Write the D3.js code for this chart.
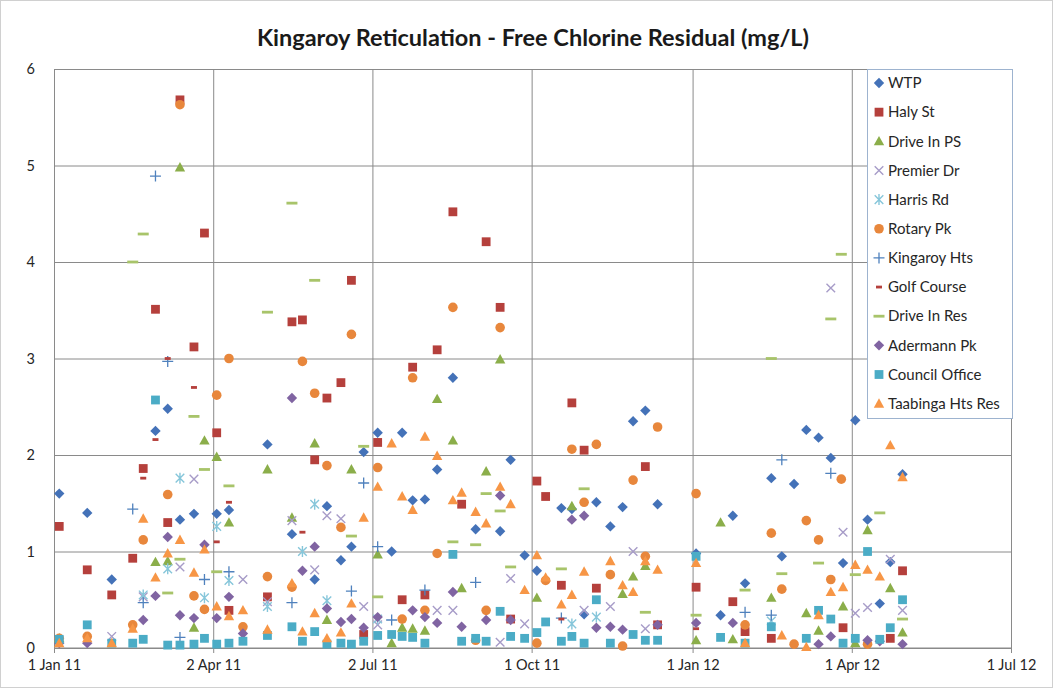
<!DOCTYPE html>
<html>
<head>
<meta charset="utf-8">
<title>Kingaroy Reticulation</title>
<script src="https://cdn.jsdelivr.net/npm/d3@7/dist/d3.min.js"></script>
<style>
  body { margin: 0; background: #fff; }
  svg { display: block; font-family: Lato, "Open Sans", sans-serif; }
</style>
</head>
<body>
<svg id="chart" width="1053" height="688"></svg>
<script>
// sample day = days after 1 Jan 2011, value = free chlorine mg/L
const wtp = [[3,1.60],[19,1.40],[33,0.71],[58,2.25],[65,2.48],[72,1.33],[80,1.39],[93,1.39],[100,1.43],
  [122,2.11],[136,1.18],[149,0.71],[156,1.47],[164,0.91],[170,1.05],[177,2.03],[185,2.23],[193,1.00],
  [199,2.23],[205,1.53],[212,1.54],[219,1.85],[228,2.80],[241,1.23],[255,1.21],[261,1.95],[269,0.96],
  [276,0.80],[290,1.45],[296,1.44],[303,0.35],[310,1.51],[318,1.26],[325,1.46],[331,2.35],[338,2.46],
  [345,1.49],[367,0.98],[381,0.34],[388,1.37],[395,0.67],[410,1.76],[416,0.95],[423,1.70],[430,2.26],
  [437,2.18],[444,1.97],[451,0.88],[458,2.36],[465,1.33],[472,0.46],[478,0.89],[485,1.80]];
const halySt = [[3,1.26],[19,0.81],[33,0.55],[45,0.93],[51,1.86],[58,3.51],[65,1.30],[72,5.68],[80,3.12],
  [86,4.30],[93,2.23],[100,0.39],[122,0.53],[136,3.38],[142,3.40],[149,1.95],[156,2.59],[164,2.75],
  [170,3.81],[177,0.14],[185,2.13],[199,0.50],[205,2.91],[212,0.55],[219,3.09],[228,4.52],[233,1.49],
  [247,4.21],[255,3.53],[261,0.30],[276,1.73],[281,1.57],[290,0.65],[296,2.54],[303,2.05],[310,0.62],
  [338,1.88],[345,0.24],[367,0.63],[388,0.48],[395,0.17],[410,0.10],[451,0.21],[478,0.10],[485,0.80]];
const driveInPS = [[3,0.10],[58,0.89],[65,0.90],[72,4.98],[80,0.21],[86,2.15],[93,1.98],[100,1.30],
  [122,1.85],[136,1.35],[149,2.12],[156,0.29],[170,1.85],[185,0.97],[193,0.05],[199,0.21],[205,0.20],
  [212,0.18],[219,2.58],[228,2.15],[233,0.62],[247,1.83],[255,2.99],[276,0.52],[296,1.47],[325,0.56],
  [331,0.74],[338,0.85],[367,0.08],[381,1.30],[388,0.09],[410,0.52],[430,0.36],[437,0.18],[451,0.43],
  [458,0.05],[465,1.22],[478,0.62],[485,0.16]];
const premierDr = [[33,0.12],[51,0.53],[72,0.84],[80,1.75],[108,0.71],[122,0.48],[136,1.32],[149,0.81],
  [156,1.37],[164,1.34],[177,0.43],[185,0.24],[219,0.39],[228,0.39],[255,0.06],[261,0.72],[269,0.25],
  [303,0.39],[318,0.43],[331,1.00],[338,0.20],[444,3.73],[451,1.20],[458,0.36],[465,0.42],[478,0.92],
  [485,0.39]];
const harrisRd = [[51,0.55],[65,0.82],[72,1.76],[86,0.52],[93,1.26],[100,0.70],[122,0.43],[142,1.00],
  [149,1.49],[156,0.49],[185,0.30],[296,0.25],[310,0.32],[410,0.28]];
const rotaryPk = [[3,0.10],[19,0.12],[45,0.24],[51,1.12],[65,1.59],[72,5.63],[80,0.54],[86,0.40],[93,2.62],
  [100,3.00],[108,0.22],[122,0.74],[136,0.63],[142,2.97],[149,2.64],[156,1.89],[164,1.25],[170,3.25],
  [185,1.87],[199,0.30],[205,2.80],[212,0.39],[219,0.98],[228,3.53],[241,0.08],[247,0.39],[255,3.32],
  [276,0.05],[281,0.70],[296,2.06],[303,1.51],[310,2.11],[318,0.76],[325,0.02],[331,1.74],[338,0.95],
  [345,2.29],[367,1.60],[395,0.24],[410,1.19],[416,0.61],[423,0.04],[430,1.32],[437,1.12],[444,0.71],
  [450,1.75],[465,0.04]];
const kingaroyHts = [[45,1.44],[51,0.47],[58,4.89],[65,2.97],[72,0.11],[86,0.71],[100,0.79],[136,0.47],
  [170,0.59],[177,1.71],[185,1.05],[193,0.29],[212,0.60],[241,0.68],[290,0.31],[395,0.37],[410,0.34],
  [416,1.95],[444,1.81]];
const golfCourse = [[51,1.76],[58,2.16],[65,3.00],[80,2.70],[93,1.10],[100,1.51],[142,1.20],[290,0.30],
  [367,0.20]];
const driveInRes = [[45,4.00],[51,4.29],[65,0.57],[72,0.92],[80,2.40],[86,1.85],[93,0.79],[100,1.68],
  [122,3.48],[136,4.61],[149,3.81],[170,1.16],[177,2.09],[185,0.53],[228,1.10],[241,1.07],[247,1.60],
  [255,1.42],[261,0.84],[290,0.82],[303,1.65],[338,0.37],[367,0.34],[395,0.60],[410,3.00],[416,0.77],
  [437,0.88],[444,3.41],[450,4.08],[458,0.76],[472,1.40],[485,0.30]];
const adermannPk = [[3,0.05],[19,0.05],[51,0.29],[58,0.54],[65,1.15],[72,0.34],[80,0.31],[86,1.07],
  [93,0.31],[100,0.53],[108,0.15],[136,2.59],[142,0.80],[149,1.05],[156,0.41],[164,0.27],[170,0.30],
  [177,0.21],[185,0.32],[205,0.39],[212,0.32],[219,0.26],[228,0.58],[233,0.22],[247,0.29],[255,1.58],
  [261,0.29],[296,1.33],[303,1.37],[310,0.21],[318,0.22],[325,0.19],[345,0.24],[367,0.26],[388,0.26],
  [437,0.04],[444,0.12],[465,0.08],[472,0.07],[485,0.04]];
const councilOffice = [[3,0.09],[19,0.24],[33,0.05],[45,0.05],[51,0.09],[58,2.57],[65,0.03],[72,0.03],
  [80,0.04],[86,0.10],[93,0.04],[100,0.05],[108,0.07],[122,0.13],[136,0.22],[142,0.07],[149,0.17],
  [156,0.04],[164,0.05],[170,0.04],[177,0.07],[185,0.13],[193,0.14],[199,0.12],[205,0.11],[212,0.05],
  [228,0.97],[233,0.07],[241,0.10],[247,0.07],[255,0.38],[261,0.12],[269,0.10],[276,0.16],[281,0.27],
  [290,0.07],[296,0.12],[303,0.05],[310,0.50],[318,0.05],[331,0.14],[338,0.08],[345,0.08],[367,0.95],
  [381,0.11],[395,0.05],[410,0.22],[430,0.10],[437,0.39],[444,0.30],[451,0.05],[458,0.10],[465,1.00],
  [472,0.09],[478,0.21],[485,0.50]];
const taabingaHtsRes = [[3,0.05],[19,0.10],[33,0.05],[45,0.20],[51,1.34],[58,0.73],[65,0.98],[72,1.12],
  [80,0.78],[86,1.02],[93,0.43],[100,0.33],[108,0.39],[122,0.19],[136,0.67],[142,0.17],[149,0.36],
  [156,0.10],[164,0.16],[170,0.46],[177,1.35],[185,1.67],[193,2.12],[199,1.57],[205,1.43],[212,2.19],
  [219,1.99],[228,1.53],[233,1.61],[241,1.41],[247,1.29],[255,1.67],[261,1.49],[269,0.60],[276,0.96],
  [281,0.73],[290,0.45],[296,0.55],[303,0.79],[318,0.90],[325,0.65],[331,0.58],[338,0.90],[345,0.81],
  [367,0.88],[395,0.05],[416,0.13],[430,0.01],[437,0.34],[444,0.58],[451,0.63],[458,0.86],[465,0.81],
  [472,0.74],[478,2.10],[485,1.77]];

const seriesNames = ['WTP', 'Haly St', 'Drive In PS', 'Premier Dr', 'Harris Rd', 'Rotary Pk',
  'Kingaroy Hts', 'Golf Course', 'Drive In Res', 'Adermann Pk', 'Council Office', 'Taabinga Hts Res'];
const seriesData = [wtp, halySt, driveInPS, premierDr, harrisRd, rotaryPk,
  kingaroyHts, golfCourse, driveInRes, adermannPk, councilOffice, taabingaHtsRes];

const tickDays = [0, 91, 182, 273, 365, 456, 547];
const tickLabels = ['1 Jan 11', '2 Apr 11', '2 Jul 11', '1 Oct 11', '1 Jan 12', '1 Apr 12', '1 Jul 12'];
const yTicks = [0, 1, 2, 3, 4, 5, 6];

// marker styles per series
const markers = [
  { shape: 'diamond', color: '#4472B8' },
  { shape: 'square', color: '#B5403C' },
  { shape: 'triangle', color: '#8BAE4A' },
  { shape: 'x', color: '#A79CC8' },
  { shape: 'asterisk', color: '#86C6DA' },
  { shape: 'circle', color: '#E8873C' },
  { shape: 'plus', color: '#4F81BD' },
  { shape: 'shortdash', color: '#B5403C' },
  { shape: 'longdash', color: '#A8C46A' },
  { shape: 'diamond', color: '#8064A2' },
  { shape: 'square', color: '#4BACC6' },
  { shape: 'triangle', color: '#F79646' }
];

const svg = d3.select('#chart');
const width = +svg.attr('width');
const height = +svg.attr('height');
const margin = { top: 69, right: 42, bottom: 40, left: 54 };
const innerWidth = width - margin.left - margin.right;
const innerHeight = height - margin.top - margin.bottom;

const day0 = new Date(2011, 0, 1);
const toDate = d => new Date(2011, 0, 1 + d);

const xScale = d3.scaleTime()
  .domain([day0, toDate(547)])
  .range([0, innerWidth]);
const yScale = d3.scaleLinear()
  .domain([0, 6])
  .range([innerHeight, 0]);

// chart border
svg.append('rect')
  .attr('x', 0.5).attr('y', 0.5)
  .attr('width', width - 1).attr('height', height - 1)
  .attr('fill', '#fff').attr('stroke', '#d0d0d0');

svg.append('text')
  .attr('x', 533).attr('y', 46)
  .attr('text-anchor', 'middle')
  .attr('font-size', '23.5px')
  .attr('font-weight', 'bold')
  .attr('fill', '#1a1a1a')
  .text('Kingaroy Reticulation - Free Chlorine Residual (mg/L)');

const g = svg.append('g')
  .attr('transform', `translate(${margin.left}, ${margin.top})`);

// gridlines
const yAxis = d3.axisLeft(yScale)
  .tickValues(yTicks)
  .tickSize(-innerWidth)
  .tickPadding(19)
  .tickFormat(d3.format('d'));
const yAxisGroup = g.append('g').call(yAxis);
yAxisGroup.select('.domain').attr('stroke', '#8a8a8a');
yAxisGroup.selectAll('.tick line').attr('stroke', '#8a8a8a');
yAxisGroup.selectAll('.tick text')
  .attr('font-size', '14.5px').attr('fill', '#262626').attr('font-family', 'Lato, sans-serif');

const xAxis = d3.axisBottom(xScale)
  .tickValues(tickDays.map(toDate))
  .tickSize(-innerHeight)
  .tickPadding(12)
  .tickFormat((d, i) => tickLabels[i]);
const xAxisGroup = g.append('g')
  .attr('transform', `translate(0, ${innerHeight})`)
  .call(xAxis);
xAxisGroup.select('.domain').remove();
xAxisGroup.selectAll('.tick line').attr('stroke', '#8a8a8a').attr('y2', 5).attr('y1', -innerHeight);
xAxisGroup.selectAll('.tick text')
  .attr('font-size', '14.5px').attr('fill', '#262626').attr('font-family', 'Lato, sans-serif');
g.append('line')
  .attr('x1', 0).attr('x2', innerWidth)
  .attr('y1', innerHeight).attr('y2', innerHeight)
  .attr('stroke', '#8a8a8a');

// marker drawing
function drawMarker(sel, m) {
  const c = m.color;
  switch (m.shape) {
    case 'diamond':
      sel.append('path').attr('d', 'M0,-5.2L5.2,0L0,5.2L-5.2,0Z').attr('fill', c);
      break;
    case 'square':
      sel.append('rect').attr('x', -4.4).attr('y', -4.4).attr('width', 8.8).attr('height', 8.8).attr('fill', c);
      break;
    case 'triangle':
      sel.append('path').attr('d', 'M0,-5.4L5.2,4L-5.2,4Z').attr('fill', c);
      break;
    case 'circle':
      sel.append('circle').attr('r', 4.8).attr('fill', c);
      break;
    case 'x':
      sel.append('path').attr('d', 'M-4.3,-4.3L4.3,4.3M-4.3,4.3L4.3,-4.3')
        .attr('stroke', c).attr('stroke-width', 1.4).attr('fill', 'none');
      break;
    case 'asterisk':
      sel.append('path').attr('d', 'M-4.3,-4.3L4.3,4.3M-4.3,4.3L4.3,-4.3M0,-5.5L0,5.5')
        .attr('stroke', c).attr('stroke-width', 1.4).attr('fill', 'none');
      break;
    case 'plus':
      sel.append('path').attr('d', 'M-5.5,0L5.5,0M0,-5.5L0,5.5')
        .attr('stroke', c).attr('stroke-width', 1.3).attr('fill', 'none');
      break;
    case 'shortdash':
      sel.append('rect').attr('x', -3).attr('y', -1.4).attr('width', 6).attr('height', 2.8).attr('fill', c);
      break;
    case 'longdash':
      sel.append('rect').attr('x', -5.5).attr('y', -1.4).attr('width', 11).attr('height', 2.8).attr('fill', c);
      break;
  }
}

seriesData.forEach((data, i) => {
  const layer = g.append('g').attr('class', 'series');
  layer.selectAll('g')
    .data(data).join('g')
    .attr('transform', d => `translate(${xScale(toDate(d[0]))}, ${yScale(d[1])})`)
    .each(function () { drawMarker(d3.select(this), markers[i]); });
});

// legend
const legend = svg.append('g').attr('transform', 'translate(867, 69)');
legend.append('rect')
  .attr('x', 0.5).attr('y', 0.5)
  .attr('width', 145).attr('height', 349)
  .attr('fill', '#fff').attr('stroke', '#9db3cf');
const items = legend.selectAll('.legend')
  .data(seriesNames).join('g')
  .attr('class', 'legend')
  .attr('transform', (d, i) => `translate(12, ${14 + i * 29.15})`);
items.each(function (d, i) { drawMarker(d3.select(this), markers[i]); });
items.append('text')
  .attr('x', 9)
  .attr('dy', '0.35em')
  .attr('font-size', '15px')
  .attr('fill', '#262626')
  .text(d => d);
</script>
</body>
</html>
